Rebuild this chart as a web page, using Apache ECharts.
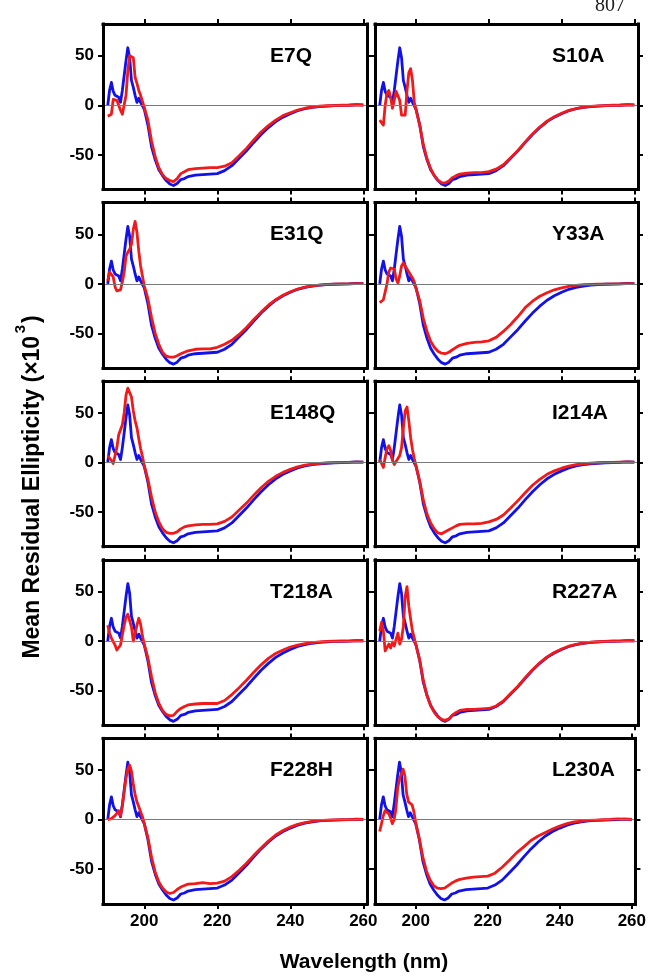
<!DOCTYPE html>
<html><head><meta charset="utf-8">
<script src="https://cdn.jsdelivr.net/npm/echarts@6/dist/echarts.min.js"></script>
<style>html,body{margin:0;padding:0;background:#fff}#c{width:649px;height:976px}</style>
</head><body><div id="c"></div>
<script>
// Wavelength (nm)
const wavelength = [190,190.5,191,191.5,192,192.5,193,193.5,194,194.5,195,195.5,196,196.5,197,197.5,198,198.5,199,199.5,200,
  201,202,203,204,205,206,207,208,209,210,211,212,
  214,216,218,220,222,224,226,228,230,232,234,236,238,240,242,244,246,248,250,252,254,256,258,260];

// Wild type (blue), same in every panel
const wildType = [0,15,23,14,10,8,8,3,15,30,45,58,48,25,18,10,3,7,3,3,-4,
  -20,-42,-55,-65,-71,-76,-79.5,-81,-79,-75,-74,-72,
  -70.5,-70,-69.5,-69,-66,-61,-53.5,-46,-37.5,-29.5,-22.5,-16.5,-12,-8.5,-5.5,-3.5,-2.2,-1.3,-0.8,-0.4,-0.2,0,0.5,0.3];

const panelNames = ['E7Q','S10A','E31Q','Y33A','E148Q','I214A','T218A','R227A','F228H','L230A'];

// Mutants (red)
const e7q = [-11,-10,-9,6,7,5,3,-5,-9,-10,10,35,50,52,48,28,22,15,10,4,-2,
  -15,-36,-52,-63,-70,-74,-76,-77,-74,-69,-67,-65,
  -64,-63.5,-63,-63,-61.5,-58,-51,-43.5,-35,-27,-20.5,-15,-10.5,-7.5,-4.8,-3,-1.8,-1,-0.5,-0.3,0,0,0.3,0];
const s10a = [-15,-17,-20,0,12,15,8,-3,5,14,12,5,-10,-12,-10,15,33,37,25,3,-5,
  -20,-40,-54,-64,-71,-75.5,-78,-78.5,-76.5,-73,-71,-69.5,
  -68.5,-68,-68,-67,-64.5,-60,-53,-45.5,-37,-29,-22,-16,-11.5,-8,-5.2,-3.3,-2,-1.2,-0.6,-0.3,0,0,0.3,0.2];
const e31q = [3,12,13,7,-3,-7,-8,-6,2,12,28,32,35,40,55,63,52,33,18,8,-2,
  -15,-34,-50,-61,-69,-73,-74,-74,-72.5,-70.5,-69,-67.5,
  -66,-65.5,-65.5,-64,-61,-57,-51,-44,-36,-28.5,-21.5,-16,-11.5,-8,-5.2,-3.3,-2,-1.2,-0.6,-0.3,0,0,0.2,0.2];
const y33a = [-19,-17,-16,-14,0,12,16,18,15,5,1,8,18,21,20,15,12,11,6,2,-5,
  -17,-35,-48,-58,-64,-68,-70,-70.5,-69,-66.5,-64,-62,
  -60,-59,-58.5,-57.5,-54,-48,-41,-33,-24,-17.5,-12.5,-9,-6,-4,-2.5,-1.5,-0.8,-0.5,-0.3,-0.2,0,0,0.2,0.2];
const e148q = [7,6,2,-1,0,15,28,33,38,50,68,75,74,66,52,42,35,24,14,6,-3,
  -17,-35,-50,-60,-67,-70.5,-71.5,-71.5,-70,-67,-65,-64,
  -63,-62.5,-62.5,-62,-59.5,-55,-48,-41,-33,-25.5,-19,-14,-10,-7,-4.5,-2.8,-1.7,-1,-0.5,-0.2,0,0,0.3,0.3];
const i214a = [3,1,-5,5,14,17,12,2,-2,1,4,7,15,35,52,56,42,25,13,4,-4,
  -19,-38,-52,-61,-67,-71,-72,-70,-68,-66,-64,-62.5,
  -62,-62,-61.5,-60,-57.5,-53,-46,-38.5,-30.5,-23,-17,-12,-8.5,-5.8,-3.7,-2.3,-1.3,-0.7,-0.3,0,0,0.3,0.5,0.3];
const t218a = [16,8,3,1,-4,-9,-8,-4,6,16,24,27,26,14,0,-2,16,23,17,5,-3,
  -17,-36,-52,-63,-70,-74,-75.5,-75,-71,-68,-66,-64.5,
  -63.5,-63,-63,-63,-60,-54,-47,-39.5,-31.5,-24,-17.5,-12.5,-9,-6,-4,-2.5,-1.5,-0.8,-0.4,-0.2,0,0,0.3,0.3];
const r227a = [10,19,10,-10,-8,-3,-7,-1,-5,2,8,-3,2,15,45,55,35,22,10,3,-5,
  -19,-40,-55,-65,-72,-76.5,-79,-80,-78.5,-74.5,-72,-70,
  -69,-69,-68.5,-68,-65.5,-60.5,-53,-45.5,-37,-29,-22,-16,-11.5,-8,-5.2,-3.3,-2,-1.2,-0.7,-0.3,0,0,0.3,0.2];
const f228h = [0,-2,1,3,4,6,9,4,14,28,42,51,55,49,36,25,18,13,8,3,-4,
  -18,-38,-53,-63,-69,-73,-74.5,-73.5,-70.5,-68,-66.5,-65,
  -64.5,-63.5,-64.5,-64,-62,-57.5,-51,-44,-36,-28.5,-21.5,-15.5,-11,-7.5,-4.8,-3,-1.8,-1,-0.5,-0.3,0,0,0.3,0.2];
const l230a = [-12,-11,4,9,10,6,2,-4,0,11,32,41,43,51,44,26,18,16,15,8,-3,
  -19,-38,-52,-61,-66.5,-69,-69.5,-69,-66.5,-64,-62,-60.5,
  -59,-58,-57.5,-57,-54,-48,-41,-33.5,-27.5,-21,-16.5,-13,-9.5,-6.5,-4,-2.3,-1.4,-0.8,-0.4,-0.1,0.2,0.8,0.5,0.3];
const mutants = [e7q, s10a, e31q, y33a, e148q, i214a, t218a, r227a, f228h, l230a];

const xTicks = [200, 220, 240, 260];
const yTicks = [-50, 0, 50];

const FONT = '"Liberation Sans", Arial, Helvetica, sans-serif';
const chart = echarts.init(document.getElementById('c'), null, {renderer: 'canvas'});

const pairs = arr => wavelength.map((w, i) => [w, arr[i]]);

const grids = [], xAxes = [], yAxes = [], series = [], graphics = [];
const axisLine = {show: true, onZero: false, lineStyle: {color: '#000', width: 3, cap: 'square'}};
const tickStyle = {color: '#000', width: 2};
const labelStyle = {color: '#000', fontSize: 17, fontWeight: 'bold', fontFamily: FONT, margin: 9};

for (let k = 0; k < 10; k++) {
  const col = k % 2, row = Math.floor(k / 2);
  const left = col ? 375 : 103;
  const width = col ? 263 : 264;
  const top = 24 + row * 178.6;
  const height = 165.5;
  grids.push({left, top, width, height, show: false});
  ['bottom', 'top'].forEach(pos => {
    xAxes.push({
      gridIndex: k, type: 'value', position: pos, min: 188.7, max: 261, z: 5,
      axisLine,
      axisTick: {show: true, inside: false, length: 5, customValues: xTicks, lineStyle: tickStyle},
      axisLabel: Object.assign({show: pos === 'bottom' && row === 4, customValues: xTicks}, labelStyle),
      splitLine: {show: false}
    });
  });
  ['left', 'right'].forEach(pos => {
    yAxes.push({
      gridIndex: k, type: 'value', position: pos, min: -85, max: 82, z: 5,
      axisLine,
      axisTick: {show: true, inside: false, length: 5, customValues: yTicks, lineStyle: tickStyle},
      axisLabel: Object.assign({show: pos === 'left' && col === 0, customValues: yTicks}, labelStyle),
      splitLine: {show: false}
    });
  });
  series.push({
    type: 'line', xAxisIndex: 2 * k, yAxisIndex: 2 * k, data: pairs(wildType),
    showSymbol: false, symbol: 'none', smooth: false, z: 2, clip: true,
    lineStyle: {color: '#1212e8', width: 2.8, join: 'round'},
    markLine: {silent: true, symbol: ['none', 'none'], label: {show: false},
      lineStyle: {color: '#7a7a7a', width: 1, type: 'solid'}, data: [{yAxis: 0}]}
  });
  series.push({
    type: 'line', xAxisIndex: 2 * k, yAxisIndex: 2 * k, data: pairs(mutants[k]),
    showSymbol: false, symbol: 'none', smooth: false, z: 3, clip: true,
    lineStyle: {color: '#f01a1a', width: 2.8, join: 'round'}
  });
  graphics.push({
    type: 'text', x: col ? 552 : 270, y: top + 32, z: 10,
    style: {text: panelNames[k], font: 'bold 21px ' + FONT, fill: '#000', align: 'left', verticalAlign: 'middle'}
  });
}

graphics.push({
  type: 'text', x: 33, y: 487, rotation: Math.PI / 2, z: 10,
  style: {text: 'Mean Residual Ellipticity (×10  )', font: 'bold 23px ' + FONT, fill: '#000', align: 'center', verticalAlign: 'middle'}
});
graphics.push({
  type: 'text', x: 21, y: 329, rotation: Math.PI / 2, z: 10,
  style: {text: '3', font: 'bold 15px ' + FONT, fill: '#000', align: 'center', verticalAlign: 'middle'}
});
graphics.push({
  type: 'text', x: 364, y: 962, z: 10,
  style: {text: 'Wavelength (nm)', font: 'bold 21px ' + FONT, fill: '#000', align: 'center', verticalAlign: 'middle'}
});
graphics.push({
  type: 'text', x: 595, y: 16, z: 10,
  style: {text: '807', font: '20px "Liberation Serif", "Times New Roman", serif', fill: '#222', align: 'left', verticalAlign: 'bottom'}
});

chart.setOption({
  animation: false,
  backgroundColor: '#fff',
  grid: grids,
  xAxis: xAxes,
  yAxis: yAxes,
  series: series,
  graphic: graphics
});
</script>
</body></html>
